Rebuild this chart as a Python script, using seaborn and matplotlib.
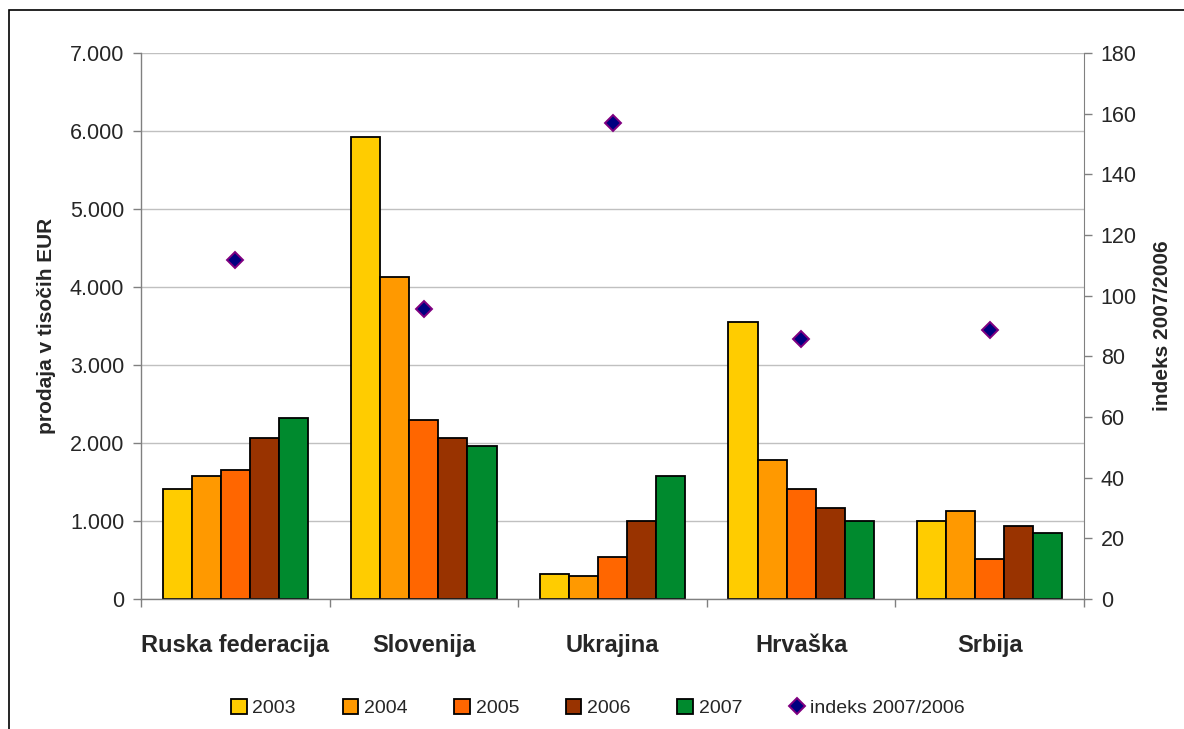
import numpy as np
import pandas as pd
import matplotlib.pyplot as plt
import matplotlib.patches as mpatches
from matplotlib.lines import Line2D
from matplotlib.ticker import FuncFormatter, FixedLocator
import seaborn as sns

sns.set_style("white")
plt.rcParams['font.family'] = ['Liberation Sans Narrow', 'Liberation Sans', 'DejaVu Sans']

# Data
countries = ['Ruska federacija', 'Slovenija', 'Ukrajina', 'Hrvaška', 'Srbija']
years = ['2003', '2004', '2005', '2006', '2007']
sales_2003 = [1410, 5925, 325, 3550, 1005]
sales_2004 = [1575, 4130, 300, 1780, 1130]
sales_2005 = [1655, 2300, 540, 1410, 515]
sales_2006 = [2065, 2065, 1005, 1170, 940]
sales_2007 = [2320, 1965, 1575, 1005, 840]
index_0706 = [111.8, 95.5, 157.0, 85.7, 88.7]

colors = ['#FFCC00', '#FF9900', '#FF6600', '#993300', '#008A2E']

df = pd.DataFrame({'country': countries, '2003': sales_2003, '2004': sales_2004,
                   '2005': sales_2005, '2006': sales_2006, '2007': sales_2007})
long_df = df.melt(id_vars='country', var_name='leto', value_name='prodaja')

fig = plt.figure(figsize=(11.84, 7.29), dpi=100)
ax = fig.add_axes([141 / 1184, 1 - 599 / 729, (1084 - 141) / 1184, (599 - 53) / 729])

sns.barplot(data=long_df, x='country', y='prodaja', hue='leto', order=countries,
            hue_order=years, palette=colors, width=0.77, gap=0, saturation=1,
            edgecolor='black', linewidth=1.3, ax=ax)
handles, labels = ax.get_legend_handles_labels()
ax.legend_.remove()

ax.set_xlim(-0.5, len(countries) - 0.5)
ax.set_ylim(0, 7000)
ax.set_yticks(np.arange(0, 7001, 1000))
ax.yaxis.set_major_formatter(FuncFormatter(lambda v, p: f'{int(v):,}'.replace(',', '.')))
ax.grid(axis='y', color='#C0C0C0', linewidth=1)
ax.set_axisbelow(True)

# category boundaries as ticks, names as minor labels
ax.xaxis.set_major_locator(FixedLocator(np.arange(-0.5, len(countries), 1.0)))
ax.set_xticklabels([''] * (len(countries) + 1))
ax.xaxis.set_minor_locator(FixedLocator(np.arange(len(countries))))
ax.set_xticklabels(countries, minor=True, fontsize=17, fontweight='bold')
ax.tick_params(axis='x', which='major', length=6, width=1, color='#808080', direction='out', bottom=True)
ax.tick_params(axis='x', which='minor', length=0, pad=25)
ax.tick_params(axis='y', length=6, width=1, color='#808080', direction='out', left=True,
               labelsize=15.5, pad=6)
ax.set_xlabel('')
ax.set_ylabel('prodaja v tisočih EUR', fontsize=15, fontweight='bold',
              family=['Liberation Sans', 'DejaVu Sans'], labelpad=10)

for side in ['left', 'bottom']:
    ax.spines[side].set_color('#808080')
    ax.spines[side].set_linewidth(1)
ax.spines['top'].set_visible(False)
ax.spines['right'].set_visible(False)

# index on secondary axis
ax2 = ax.twinx()
ax2.plot(np.arange(len(countries)), index_0706, linestyle='none', marker='D',
         markersize=8, markerfacecolor='#000080', markeredgecolor='#800080',
         markeredgewidth=1.4)
ax2.set_ylim(0, 180)
ax2.set_yticks(np.arange(0, 181, 20))
ax2.tick_params(axis='y', length=6, width=1, color='#808080', direction='out', right=True,
                labelsize=15.5, pad=6)
ax2.set_ylabel('indeks 2007/2006', fontsize=15, fontweight='bold',
               family=['Liberation Sans', 'DejaVu Sans'], labelpad=12)
for side in ['left', 'top', 'bottom']:
    ax2.spines[side].set_visible(False)
ax2.spines['right'].set_color('#808080')
ax2.grid(False)

# legend
idx_handle = Line2D([], [], linestyle='none', marker='D', markersize=8,
                    markerfacecolor='#000080', markeredgecolor='#800080', markeredgewidth=1.4)
fig.legend(handles + [idx_handle], labels + ['indeks 2007/2006'], loc='center',
           bbox_to_anchor=(0.505, 1 - 708 / 729), ncol=6, frameon=False, fontsize=14,
           handlelength=0.8, handleheight=0.8, handletextpad=0.3, columnspacing=2.4)

# outer frame of the chart object
fig.patches.append(mpatches.Rectangle((9 / 1184, -0.2), 1.2, 1.2 - 10 / 729,
                                      transform=fig.transFigure, fill=False,
                                      edgecolor='black', linewidth=1.2))

fig.savefig('out.png', dpi=100)
